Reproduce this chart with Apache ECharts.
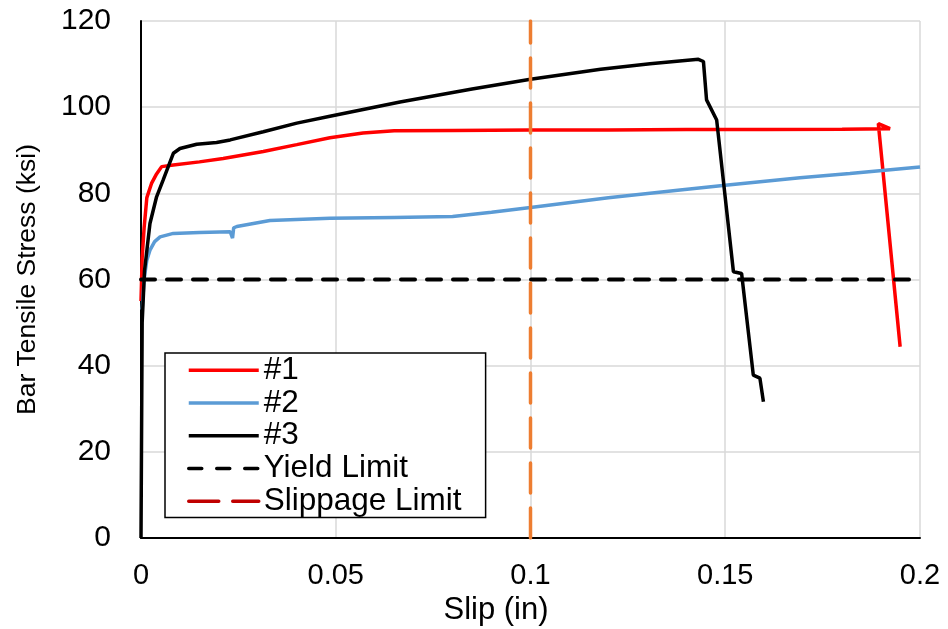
<!DOCTYPE html>
<html>
<head>
<meta charset="utf-8">
<script src="https://cdn.jsdelivr.net/npm/echarts@6/dist/echarts.min.js"></script>
<style>
html,body{margin:0;padding:0;background:#fff;}
#chart{width:948px;height:629px;}
</style>
</head>
<body>
<div id="chart"></div>
<script>
// Series #1 (red)
var s1X = [0, 0.0003, 0.0008, 0.0015, 0.0027, 0.004, 0.0053, 0.0083, 0.015, 0.0211, 0.0314, 0.04, 0.0485, 0.057, 0.065, 0.08, 0.1, 0.12, 0.14, 0.16, 0.18, 0.1923, 0.1893, 0.1949];
var s1Y = [55, 65, 72, 79, 82.3, 84.5, 86.2, 86.6, 87.3, 88.1, 89.7, 91.3, 92.9, 94.0, 94.5, 94.6, 94.7, 94.7, 94.8, 94.8, 94.9, 95.0, 96.2, 44.4];
// Series #2 (blue)
var s2X = [0.0003, 0.0008, 0.0015, 0.0023, 0.0035, 0.0049, 0.0083, 0.015, 0.0229, 0.0235, 0.0238, 0.0246, 0.0331, 0.0485, 0.065, 0.08, 0.09, 0.1, 0.12, 0.1384, 0.15, 0.1692, 0.182, 0.2];
var s2Y = [53, 60, 64.5, 66.8, 68.8, 69.9, 70.7, 70.9, 71.1, 69.6, 72.0, 72.3, 73.7, 74.2, 74.4, 74.6, 75.6, 76.7, 79.0, 80.8, 81.9, 83.6, 84.6, 86.1];
// Series #3 (black)
var s3X = [0, 0.0003, 0.0009, 0.0023, 0.004, 0.0057, 0.0083, 0.01, 0.0143, 0.0194, 0.0229, 0.0314, 0.04, 0.0485, 0.0665, 0.085, 0.1, 0.118, 0.1307, 0.1431, 0.1444, 0.1452, 0.1478, 0.1521, 0.1542, 0.1572, 0.1589, 0.1598];
var s3Y = [0, 50, 62, 73.0, 79.2, 83.1, 89.3, 90.4, 91.4, 91.8, 92.4, 94.3, 96.3, 97.9, 101.2, 104.2, 106.5, 108.8, 110.1, 111.1, 110.6, 101.7, 97.0, 61.8, 61.4, 37.8, 37.1, 31.6];
// Limits
var yieldX = [0, 0.2];
var yieldY = [60, 60];
var slipX = [0.1, 0.1];
var slipY = [0, 120];
// Axis ticks
var xTicks = {min: 0, max: 0.2, interval: 0.05};
var yTicks = {min: 0, max: 120, interval: 20};
var seriesNames = ['#1', '#2', '#3', 'Yield Limit', 'Slippage Limit'];

function pairs(xs, ys) { return xs.map(function (x, i) { return [x, ys[i]]; }); }

var FONT = "'Liberation Sans', Arial, sans-serif";
var chart = echarts.init(document.getElementById('chart'), null, {renderer: 'canvas'});
chart.setOption({
  animation: false,
  backgroundColor: '#ffffff',
  grid: {left: 141, right: 28, top: 21, bottom: 91, containLabel: false, outerBoundsMode: 'none'},
  xAxis: {
    type: 'value', min: xTicks.min, max: xTicks.max, interval: xTicks.interval,
    name: 'Slip (in)', nameLocation: 'middle', nameGap: 51,
    nameTextStyle: {fontFamily: FONT, fontSize: 31, color: '#000', padding: [0, 69, 0, 0]},
    axisLine: {show: true, onZero: false, lineStyle: {color: '#000', width: 2}},
    axisTick: {show: false},
    axisLabel: {fontFamily: FONT, fontSize: 29, color: '#000', margin: 23,
      formatter: function (v) { return String(+v.toFixed(2)); }},
    splitLine: {show: true, lineStyle: {color: '#d9d9d9', width: 1.5}}
  },
  yAxis: {
    type: 'value', min: yTicks.min, max: yTicks.max, interval: yTicks.interval,
    name: 'Bar Tensile Stress (ksi)', nameLocation: 'middle', nameGap: 100,
    nameTextStyle: {fontFamily: FONT, fontSize: 26.5, color: '#000'},
    axisLine: {show: true, onZero: false, lineStyle: {color: '#000', width: 2}},
    axisTick: {show: false},
    axisLabel: {fontFamily: FONT, fontSize: 30, color: '#000', margin: 30},
    splitLine: {show: true, lineStyle: {color: '#d9d9d9', width: 1.5}}
  },
  legend: {
    orient: 'vertical', left: 165, top: 353,
    padding: [1, 24, 0, 22],
    borderColor: '#000', borderWidth: 1.5, backgroundColor: '#fff',
    itemWidth: 70, itemHeight: 14, itemGap: 0,
    itemStyle: {opacity: 0},
    lineStyle: {width: 3.5},
    textStyle: {fontFamily: FONT, fontSize: 31.5, color: '#000', lineHeight: 32.7},
    data: [
      {name: seriesNames[0]},
      {name: seriesNames[1]},
      {name: seriesNames[2]},
      {name: seriesNames[3], lineStyle: {width: 3.5, type: [13, 15], color: '#000'}},
      {name: seriesNames[4], itemStyle: {color: '#c00000', opacity: 0}, lineStyle: {color: '#c00000', type: [30, 14], width: 3.5}}
    ]
  },
  series: [
    {name: seriesNames[0], type: 'line', data: pairs(s1X, s1Y), symbol: 'none', color: '#ff0000',
      lineStyle: {color: '#ff0000', width: 3.5}},
    {name: seriesNames[1], type: 'line', data: pairs(s2X, s2Y), symbol: 'none', color: '#5b9bd5',
      lineStyle: {color: '#5b9bd5', width: 3.5}},
    {name: seriesNames[2], type: 'line', data: pairs(s3X, s3Y), symbol: 'none', color: '#000000',
      lineStyle: {color: '#000000', width: 3.5}},
    {name: seriesNames[3], type: 'line', data: pairs(yieldX, yieldY), symbol: 'none', color: '#000000',
      lineStyle: {color: '#000000', width: 4, type: [14, 12], cap: 'round'}},
    {name: seriesNames[4], type: 'line', data: pairs(slipX, slipY), symbol: 'none', color: '#ed7d31',
      lineStyle: {color: '#ed7d31', width: 3.5, type: [30, 15], cap: 'round'}}
  ]
});
</script>
</body>
</html>
